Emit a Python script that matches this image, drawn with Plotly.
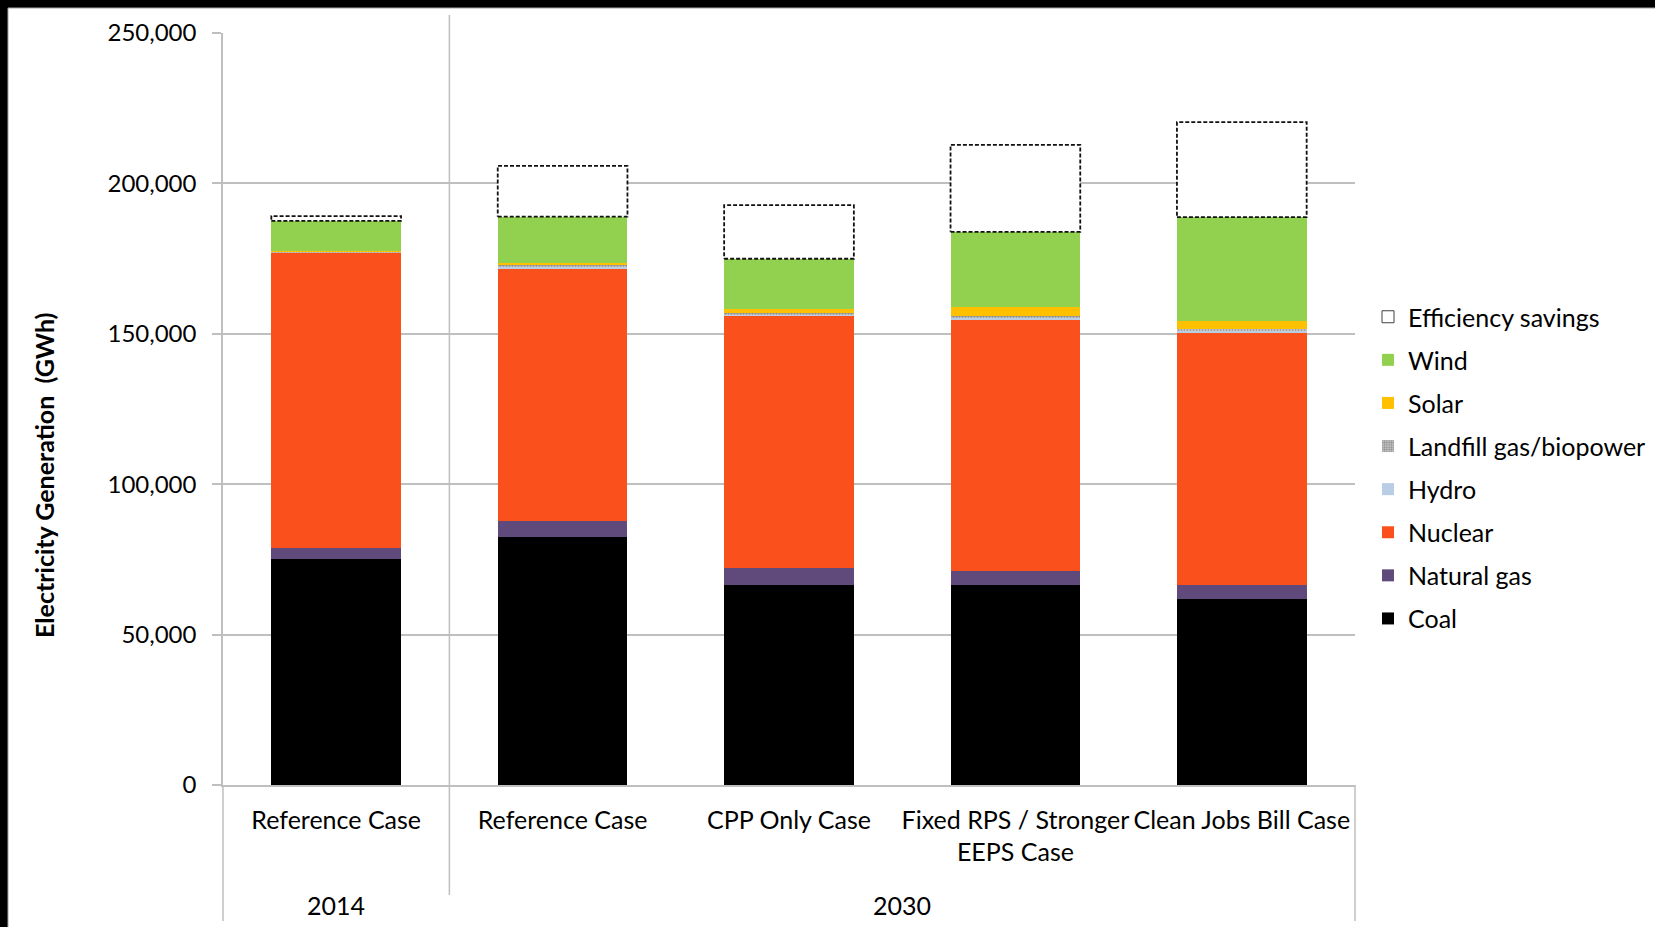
import plotly.graph_objects as go

# Scenario categories (bottom level) and study year (top level)
cases = ["Reference Case", "Reference Case", "CPP Only Case",
         "Fixed RPS / Stronger<br>EEPS Case", "Clean Jobs Bill Case"]
years = ["2014", "2030", "2030", "2030", "2030"]

# Electricity generation by source (GWh)
coal = [75300, 82400, 66500, 66400, 62000]
natural_gas = [3650, 5400, 5550, 4800, 4650]
nuclear = [98000, 84000, 84000, 83600, 83850]
hydro = [150, 300, 300, 300, 300]
landfill_bio = [400, 1000, 600, 900, 700]
solar = [50, 530, 1300, 2900, 2750]
wind = [10000, 15300, 16700, 25000, 34550]
efficiency = [1600, 16900, 17800, 28900, 31550]

y_ticks = [0, 50000, 100000, 150000, 200000, 250000]

# Figure geometry
W, H = 1655, 927
L, R, T, B = 223, 300, 33, 142
PW, PH = W - L - R, H - T - B
FONT = "Lato"
GRID = "#BFBFBF"
BAR_W = 0.573

xs = list(range(len(cases)))
x_lo, x_hi = -0.5, len(cases) - 0.5


def px_x(px):
    return (px - L) / PW


def px_y(py):
    return (H - B - py) / PH


def data_x(v):
    return (v - x_lo) / (x_hi - x_lo)


fig = go.Figure()

layers = [
    ("Coal", coal, dict(color="#000000")),
    ("Natural gas", natural_gas, dict(color="#604A7B")),
    ("Nuclear", nuclear, dict(color="#FA501C")),
    ("Hydro", hydro, dict(color="#B9CDE5")),
    ("Landfill gas/biopower", landfill_bio,
     dict(color="#D0D0D0", pattern=dict(shape=".", fgcolor="#4a4a4a", bgcolor="#D0D0D0",
                                        size=3, solidity=0.5))),
    ("Solar", solar, dict(color="#FFC000")),
    ("Wind", wind, dict(color="#92D050")),
]

n_legend = len(layers) + 1
for k, (name, vals, mk) in enumerate(layers):
    fig.add_trace(go.Bar(
        x=xs, y=vals, name=name, width=BAR_W, legendgroup=name,
        legendrank=n_legend - k,
        marker=dict(line=dict(width=0), **mk),
    ))

# Efficiency savings stacked on top as an empty box
fig.add_trace(go.Bar(
    x=xs, y=efficiency, name="Efficiency savings", width=BAR_W,
    marker=dict(color="#FFFFFF", line=dict(width=0)), showlegend=False,
    legendgroup="Efficiency savings",
))
fig.add_trace(go.Bar(
    x=[None], y=[None], name="Efficiency savings", legendgroup="Efficiency savings",
    legendrank=1,
    marker=dict(color="#FFFFFF", line=dict(color="#404040", width=1)),
))

# Dashed outline around each efficiency box
ox, oy = [], []
for i in xs:
    base = coal[i] + natural_gas[i] + nuclear[i] + hydro[i] + landfill_bio[i] + solar[i] + wind[i]
    top = base + efficiency[i]
    x0, x1 = i - BAR_W / 2, i + BAR_W / 2
    ox += [x0, x1, x1, x0, x0, None]
    oy += [base, base, top, top, base, None]
fig.add_trace(go.Scatter(
    x=ox, y=oy, mode="lines", showlegend=False, hoverinfo="skip",
    line=dict(color="#111111", width=1.8, dash="4px,2px"),
))

shapes = []
# Dark frame around the chart canvas
shapes.append(dict(type="rect", xref="paper", yref="paper", layer="below",
                   x0=px_x(8), x1=px_x(W + 20), y0=px_y(H + 20), y1=px_y(8),
                   fillcolor="#FFFFFF", line=dict(color="#A6A6A6", width=1)))

# Group dividers below the category axis
bounds = [x_lo]
for i in range(1, len(years)):
    if years[i] != years[i - 1]:
        bounds.append(i - 0.5)
bounds.append(x_hi)
for b in bounds:
    inner = x_lo < b < x_hi
    shapes.append(dict(type="line", xref="paper", yref="paper",
                       x0=data_x(b), x1=data_x(b),
                       y0=px_y(895) if inner else px_y(921),
                       y1=px_y(15) if inner else 0,
                       line=dict(color=GRID, width=1.5)))

annotations = []
# Year labels centred under each group
groups = {}
for i, yr in enumerate(years):
    groups.setdefault(yr, []).append(i)
for yr, idx in groups.items():
    annotations.append(dict(text=yr, xref="x", yref="paper",
                            x=sum(idx) / len(idx), y=px_y(905),
                            showarrow=False, yanchor="middle",
                            font=dict(family=FONT, size=25, color="#000000")))

annotations.append(dict(text="<b>Electricity Generation  (GWh)</b>", textangle=-90,
                        xref="paper", yref="paper", x=px_x(44), y=px_y(475),
                        showarrow=False, xanchor="center", yanchor="middle",
                        font=dict(family=FONT, size=25, color="#000000")))

fig.update_layout(
    width=W, height=H,
    margin=dict(l=L, r=R, t=T, b=B, autoexpand=False),
    paper_bgcolor="#000000", plot_bgcolor="#FFFFFF",
    barmode="stack",
    font=dict(family=FONT, size=25, color="#000000"),
    shapes=shapes, annotations=annotations,
    legend=dict(x=px_x(1368), y=px_y(294), xanchor="left", yanchor="top",
                traceorder="grouped", tracegroupgap=7.6,
                bgcolor="rgba(0,0,0,0)", font=dict(family=FONT, size=25, color="#000000")),
    xaxis=dict(range=[x_lo, x_hi], tickvals=xs, ticktext=cases, showgrid=False,
               showline=True, linecolor=GRID, linewidth=1.5, ticks="",
               ticklabelstandoff=12, zeroline=False),
    yaxis=dict(range=[0, 250000], tickvals=y_ticks, tickformat=",", showgrid=True,
               gridcolor=GRID, gridwidth=1.5, showline=True, linecolor=GRID, linewidth=1.5,
               ticks="outside", ticklen=9, tickcolor=GRID, tickwidth=1.5,
               tickfont=dict(family=FONT, size=24, color="#000000"),
               ticklabelstandoff=11, zeroline=False),
)

fig.write_html("out.html")
